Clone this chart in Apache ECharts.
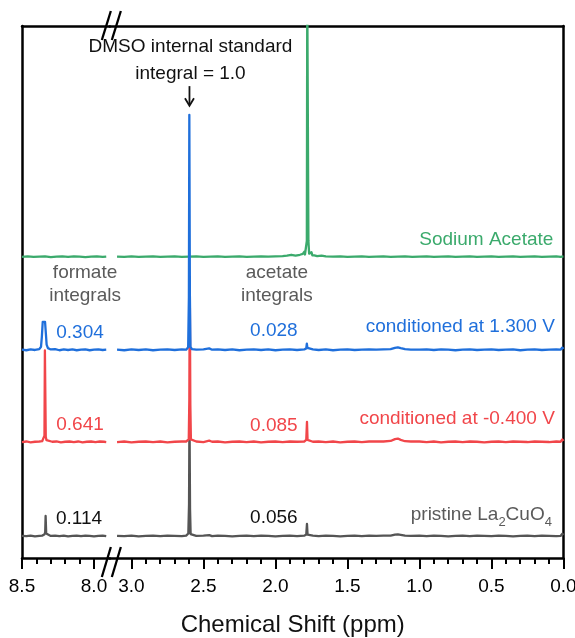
<!DOCTYPE html>
<html>
<head>
<meta charset="utf-8">
<script src="https://cdn.jsdelivr.net/npm/echarts@6/dist/echarts.min.js"></script>
<style>
  html, body { margin: 0; padding: 0; background: #fff; }
  #chart { width: 575px; height: 638px; }
</style>
</head>
<body>
<div id="chart"></div>
<script>
// ---- axis windows (ppm) on either side of the break ----
const leftWindow = [7.89, 8.5];
const rightWindow = [0, 3.15];
const majorTicksLeft = [8.5, 8.0];
const majorTicksRight = [3.0, 2.5, 2.0, 1.5, 1.0, 0.5, 0.0];
const minorTicksLeft = [8.4, 8.3, 8.2, 8.1];
const minorTicksRight = [2.9, 2.8, 2.7, 2.6, 2.4, 2.3, 2.2, 2.1, 1.9, 1.8, 1.7, 1.6,
                         1.4, 1.3, 1.2, 1.1, 0.9, 0.8, 0.7, 0.6, 0.4, 0.3, 0.2, 0.1];

// ---- vertical stacking offsets of each spectrum (arbitrary intensity units) ----
const offsetPristine = 4.1;
const offsetMinus400 = 21.8;
const offsetPlus1300 = 39.1;
const offsetAcetate = 56.6;

// ---- integrals relative to the DMSO standard ----
const formateIntegrals = [0.114, 0.641, 0.304];   // pristine, -0.400 V, 1.300 V
const acetateIntegrals = [0.056, 0.085, 0.028];

// ---- spectra: [ppm, intensity] ----
const plus1300Left = [[8.50,0.05],[8.47,-0.05],[8.44,0.10],[8.41,0.00],[8.38,0.15],[8.368,0.6],[8.362,2.5],
  [8.356,5.3],[8.348,5.6],[8.340,5.3],[8.334,3.0],[8.329,1.0],[8.32,0.35],[8.30,0.10],[8.27,0.15],[8.24,-0.05],
  [8.21,0.10],[8.18,0.00],[8.15,0.10],[8.12,-0.05],[8.09,0.05],[8.06,0.10],[8.03,-0.05],[8.00,0.05],[7.97,0.10],
  [7.94,0.00],[7.915,0.05]];
const plus1300Right = [[3.10,0.05],[3.05,-0.05],[3.00,0.10],[2.95,0.00],[2.90,0.10],[2.85,-0.05],[2.80,0.05],
  [2.75,0.10],[2.70,0.00],[2.65,0.10],[2.62,0.05],[2.606,0.5],[2.601,10],[2.598,44.2],[2.594,10],[2.590,0.6],
  [2.58,0.15],[2.55,0.05],[2.50,0.10],[2.46,0.30],[2.44,0.05],[2.40,0.10],[2.35,0.00],[2.30,0.10],[2.25,-0.05],
  [2.20,0.05],[2.15,0.10],[2.10,0.00],[2.05,0.10],[2.00,-0.05],[1.95,0.05],[1.90,0.10],[1.85,0.00],[1.80,0.10],
  [1.786,0.3],[1.782,1.2],[1.778,0.4],[1.77,0.05],[1.74,0.10],[1.70,0.00],[1.65,0.10],[1.60,-0.05],[1.55,0.05],
  [1.50,0.10],[1.45,0.00],[1.40,0.05],[1.35,0.10],[1.30,0.05],[1.25,0.10],[1.20,0.15],[1.17,0.40],[1.15,0.50],
  [1.13,0.35],[1.10,0.15],[1.06,0.05],[1.00,0.05],[0.95,0.10],[0.90,0.00],[0.85,0.10],[0.80,0.05],[0.75,-0.05],
  [0.70,0.05],[0.65,0.10],[0.60,0.00],[0.55,0.05],[0.50,0.10],[0.45,0.00],[0.40,0.05],[0.35,0.10],[0.30,-0.05],
  [0.25,0.05],[0.20,0.10],[0.15,0.00],[0.10,0.05],[0.05,0.10],[0.02,0.05],[0.008,0.45],[0.0,0.2]];

const minus400Left = [[8.50,0.00],[8.47,0.10],[8.44,-0.05],[8.41,0.05],[8.38,0.10],[8.36,0.15],[8.348,0.5],
  [8.344,1.2],[8.341,17.2],[8.338,17.2],[8.335,1.0],[8.33,0.35],[8.32,0.15],[8.29,0.05],[8.26,0.10],[8.23,-0.05],
  [8.20,0.05],[8.17,0.10],[8.14,0.00],[8.11,0.10],[8.08,-0.05],[8.05,0.05],[8.02,0.10],[7.99,0.00],[7.96,0.10],
  [7.93,0.05],[7.915,0.00]];
const minus400Right = [[3.10,0.00],[3.05,0.10],[3.00,-0.05],[2.95,0.05],[2.90,0.10],[2.85,0.00],[2.80,0.10],
  [2.75,-0.05],[2.70,0.05],[2.65,0.10],[2.62,0.10],[2.602,0.5],[2.598,8],[2.595,30.5],[2.591,7],[2.587,0.5],
  [2.58,0.15],[2.55,0.10],[2.50,0.00],[2.46,0.25],[2.44,0.05],[2.40,0.10],[2.35,-0.05],[2.30,0.05],[2.25,0.10],
  [2.20,0.00],[2.15,0.10],[2.10,-0.05],[2.05,0.05],[2.00,0.10],[1.95,0.00],[1.90,0.10],[1.85,0.05],[1.80,0.10],
  [1.786,0.4],[1.781,3.8],[1.777,0.4],[1.77,0.10],[1.74,0.05],[1.70,0.10],[1.65,0.00],[1.60,0.10],[1.55,-0.05],
  [1.50,0.05],[1.45,0.10],[1.40,0.00],[1.35,0.10],[1.30,0.10],[1.25,0.10],[1.20,0.20],[1.17,0.55],[1.15,0.65],
  [1.13,0.40],[1.10,0.15],[1.06,0.10],[1.00,0.10],[0.95,0.00],[0.90,0.10],[0.85,-0.05],[0.80,0.05],[0.75,0.10],
  [0.70,0.00],[0.65,0.10],[0.60,0.05],[0.55,-0.05],[0.50,0.05],[0.45,0.10],[0.40,0.00],[0.35,0.10],[0.30,0.05],
  [0.25,0.00],[0.20,0.10],[0.15,0.05],[0.10,0.00],[0.05,0.10],[0.02,0.05],[0.008,0.5],[0.0,0.2]];

const pristineLeft = [[8.50,0.05],[8.47,0.00],[8.44,0.10],[8.41,-0.05],[8.38,0.05],[8.36,0.10],[8.345,0.3],
  [8.339,0.7],[8.336,3.8],[8.332,0.5],[8.325,0.15],[8.30,0.05],[8.27,0.10],[8.24,0.00],[8.21,0.10],[8.18,-0.05],
  [8.15,0.05],[8.12,0.10],[8.09,0.00],[8.06,0.10],[8.03,0.05],[8.00,-0.05],[7.97,0.05],[7.94,0.10],[7.915,0.00]];
const pristineRight = [[3.10,0.05],[3.05,0.00],[3.00,0.10],[2.95,-0.05],[2.90,0.05],[2.85,0.10],[2.80,0.00],
  [2.75,0.10],[2.70,0.05],[2.65,0.00],[2.62,0.10],[2.605,0.5],[2.600,6],[2.597,23.5],[2.593,5],[2.589,0.4],
  [2.58,0.10],[2.55,0.05],[2.50,0.10],[2.46,0.20],[2.44,0.00],[2.40,0.10],[2.35,0.05],[2.30,-0.05],[2.25,0.05],
  [2.20,0.10],[2.15,0.00],[2.10,0.10],[2.05,0.05],[2.00,-0.05],[1.95,0.05],[1.90,0.10],[1.85,0.00],[1.80,0.10],
  [1.786,0.3],[1.781,2.3],[1.777,0.3],[1.77,0.05],[1.74,0.10],[1.70,0.00],[1.65,0.10],[1.60,0.05],[1.55,-0.05],
  [1.50,0.05],[1.45,0.10],[1.40,0.00],[1.35,0.10],[1.30,0.05],[1.25,0.10],[1.20,0.10],[1.17,0.30],[1.15,0.35],
  [1.13,0.25],[1.10,0.10],[1.06,0.05],[1.00,0.10],[0.95,0.00],[0.90,0.10],[0.85,0.05],[0.80,-0.05],[0.75,0.05],
  [0.70,0.10],[0.65,0.00],[0.60,0.10],[0.55,0.05],[0.50,0.00],[0.45,0.10],[0.40,0.05],[0.35,-0.05],[0.30,0.05],
  [0.25,0.10],[0.20,0.00],[0.15,0.10],[0.10,0.05],[0.05,0.00],[0.02,0.05],[0.008,0.45],[0.0,0.2]];

const acetateLeft = [[8.50,0.00],[8.46,0.10],[8.42,0.00],[8.38,0.05],[8.34,0.10],[8.30,-0.05],[8.26,0.05],
  [8.22,0.10],[8.18,0.00],[8.14,0.10],[8.10,0.05],[8.06,-0.05],[8.02,0.05],[7.98,0.10],[7.94,0.00],[7.915,0.05]];
const acetateRight = [[3.10,0.05],[3.05,0.00],[3.00,0.10],[2.95,0.00],[2.90,0.05],[2.85,0.10],[2.80,0.00],
  [2.75,0.05],[2.70,0.10],[2.65,0.00],[2.60,0.05],[2.55,0.10],[2.50,0.00],[2.45,0.05],[2.40,0.10],[2.35,0.00],
  [2.30,0.05],[2.25,0.10],[2.20,0.00],[2.15,0.05],[2.10,0.10],[2.05,0.05],[2.00,0.10],[1.95,0.15],[1.92,0.25],
  [1.89,0.40],[1.86,0.25],[1.83,0.40],[1.81,0.55],[1.800,0.95],[1.795,0.45],[1.787,0.8],[1.782,3.0],[1.779,50],
  [1.774,50],[1.771,3.0],[1.766,0.6],[1.758,0.35],[1.750,0.9],[1.744,0.30],[1.73,0.30],[1.71,0.15],[1.68,0.25],
  [1.65,0.10],[1.60,0.05],[1.55,0.10],[1.50,0.00],[1.45,0.05],[1.40,0.10],[1.35,0.00],[1.30,0.05],[1.25,0.10],
  [1.20,0.00],[1.15,0.05],[1.10,0.10],[1.05,0.00],[1.00,0.05],[0.95,0.10],[0.90,0.00],[0.85,0.05],[0.80,0.10],
  [0.75,0.00],[0.70,0.05],[0.65,0.10],[0.60,0.00],[0.55,0.05],[0.50,0.10],[0.45,0.00],[0.40,0.05],[0.35,0.10],
  [0.30,0.00],[0.25,0.05],[0.20,0.10],[0.15,0.00],[0.10,0.05],[0.05,0.10],[0.02,0.00],[0.008,0.3],[0.0,0.1]];

// ---- styling ----
const FONT = '"Liberation Sans", Arial, sans-serif';
const INK = '#111111';
const BLUE = '#1F6FDB';
const RED = '#F1464A';
const GREEN = '#3BAA6C';
const GREY = '#555555';
const GREY_TEXT = '#5A5A5A';

const PX_PER_PPM = 144;
const PLOT_LEFT = 22;
const PLOT_TOP = 26;
const PLOT_HEIGHT = 532;
const leftWidth = (leftWindow[1] - leftWindow[0]) * PX_PER_PPM;
const rightWidth = (rightWindow[1] - rightWindow[0]) * PX_PER_PPM;

const chart = echarts.init(document.getElementById('chart'), null, { renderer: 'canvas' });

function shift(points, offset) {
  return points.map(p => [p[0], p[1] + offset]);
}

function lineSeries(points, offset, color, gridIdx) {
  return {
    type: 'line',
    xAxisIndex: gridIdx,
    yAxisIndex: gridIdx,
    data: shift(points, offset),
    showSymbol: false,
    symbol: 'none',
    clip: true,
    silent: true,
    lineStyle: { color: color, width: 2.3, join: 'round' },
    animation: false
  };
}

function bottomAxis(gridIdx, win, ticks, showLine, tickLen, labelled) {
  return {
    type: 'value',
    gridIndex: gridIdx,
    position: 'bottom',
    min: win[0],
    max: win[1],
    inverse: true,
    axisLine: { show: showLine, onZero: false, lineStyle: { color: '#000', width: 2.5 } },
    axisTick: { show: true, inside: false, length: tickLen, customValues: ticks,
                lineStyle: { color: '#000', width: 2 } },
    axisLabel: labelled
      ? { show: true, customValues: ticks, formatter: v => Number(v).toFixed(1),
          fontFamily: FONT, fontSize: 19, color: '#000', margin: 19 }
      : { show: false },
    splitLine: { show: false }
  };
}

function topAxis(gridIdx, win) {
  return {
    type: 'value', gridIndex: gridIdx, position: 'top', min: win[0], max: win[1], inverse: true,
    axisLine: { show: true, onZero: false, lineStyle: { color: '#000', width: 2.5 } },
    axisTick: { show: false }, axisLabel: { show: false }, splitLine: { show: false }
  };
}

function sideAxis(gridIdx, pos) {
  return {
    type: 'value', gridIndex: gridIdx, position: pos, min: 0, max: 100,
    axisLine: { show: true, onZero: false, lineStyle: { color: '#000', width: 2.5 } },
    axisTick: { show: false }, axisLabel: { show: false }, splitLine: { show: false }
  };
}

const option = {
  animation: false,
  backgroundColor: '#fff',
  grid: [
    { left: PLOT_LEFT, top: PLOT_TOP, width: leftWidth, height: PLOT_HEIGHT,
      containLabel: false, outerBoundsMode: 'none' },
    { left: PLOT_LEFT + leftWidth, top: PLOT_TOP, width: rightWidth, height: PLOT_HEIGHT,
      containLabel: false, outerBoundsMode: 'none' }
  ],
  xAxis: [
    bottomAxis(0, leftWindow, majorTicksLeft, true, 11, true),
    bottomAxis(1, rightWindow, majorTicksRight, true, 11, true),
    bottomAxis(0, leftWindow, minorTicksLeft, false, 6, false),
    bottomAxis(1, rightWindow, minorTicksRight, false, 6, false),
    topAxis(0, leftWindow),
    topAxis(1, rightWindow)
  ],
  yAxis: [ sideAxis(0, 'left'), sideAxis(1, 'right') ],
  series: [
    lineSeries(acetateLeft, offsetAcetate, GREEN, 0),
    lineSeries(acetateRight, offsetAcetate, GREEN, 1),
    lineSeries(pristineLeft, offsetPristine, GREY, 0),
    lineSeries(pristineRight, offsetPristine, GREY, 1),
    lineSeries(minus400Left, offsetMinus400, RED, 0),
    lineSeries(minus400Right, offsetMinus400, RED, 1),
    lineSeries(plus1300Left, offsetPlus1300, BLUE, 0),
    lineSeries(plus1300Right, offsetPlus1300, BLUE, 1)
  ]
};
chart.setOption(option);

// ---- annotations anchored in data coordinates ----
function toPx(gridIdx, ppm, v) {
  return chart.convertToPixel({ gridIndex: gridIdx }, [ppm, v]);
}

const notes = [
  { text: 'DMSO internal standard', grid: 1, at: [2.59, 96.1], align: 'center', color: INK },
  { text: 'integral = 1.0', grid: 1, at: [2.59, 91.0], align: 'center', color: INK },
  { text: 'formate', grid: 0, at: [8.062, 53.6], align: 'center', color: GREY_TEXT },
  { text: 'integrals', grid: 0, at: [8.062, 49.3], align: 'center', color: GREY_TEXT },
  { text: 'acetate', grid: 1, at: [1.99, 53.6], align: 'center', color: GREY_TEXT },
  { text: 'integrals', grid: 1, at: [1.99, 49.3], align: 'center', color: GREY_TEXT },
  { text: formateIntegrals[2].toFixed(3), grid: 0, at: [8.097, 42.3], align: 'center', color: BLUE },
  { text: formateIntegrals[1].toFixed(3), grid: 0, at: [8.097, 25.0], align: 'center', color: RED },
  { text: formateIntegrals[0].toFixed(3), grid: 0, at: [8.104, 7.4], align: 'center', color: INK },
  { text: acetateIntegrals[2].toFixed(3), grid: 1, at: [2.011, 42.7], align: 'center', color: BLUE },
  { text: acetateIntegrals[1].toFixed(3), grid: 1, at: [2.011, 24.8], align: 'center', color: RED },
  { text: acetateIntegrals[0].toFixed(3), grid: 1, at: [2.011, 7.5], align: 'center', color: INK },
  { text: 'Sodium Acetate', grid: 1, at: [0.07, 59.8], align: 'right', color: GREEN },
  { text: 'conditioned at 1.300 V', grid: 1, at: [0.06, 43.4], align: 'right', color: BLUE },
  { text: 'conditioned at -0.400 V', grid: 1, at: [0.06, 26.1], align: 'right', color: RED }
];

const graphics = notes.map(n => {
  const p = toPx(n.grid, n.at[0], n.at[1]);
  return {
    type: 'text', silent: true, z: 10,
    style: { text: n.text, x: p[0], y: p[1], fill: n.color, font: '19px ' + FONT,
             align: n.align, verticalAlign: 'middle' }
  };
});

// sample name with subscripts
const pristinePos = toPx(1, 0.08, 8.1);
graphics.push({
  type: 'text', silent: true, z: 10,
  style: {
    text: '{m|pristine La}{s|2}{m|CuO}{s|4}',
    x: pristinePos[0], y: pristinePos[1] - 9.5,
    align: 'right', verticalAlign: 'top',
    rich: {
      m: { fontFamily: FONT, fontSize: 19, lineHeight: 19, fill: GREY_TEXT, verticalAlign: 'top' },
      s: { fontFamily: FONT, fontSize: 13, lineHeight: 13, fill: GREY_TEXT, verticalAlign: 'top',
           padding: [11, 0, 0, 0] }
    }
  }
});

// arrow pointing at the DMSO peak
const arrowTop = toPx(1, 2.597, 88.7);
const arrowTip = toPx(1, 2.597, 85.0);
graphics.push({
  type: 'line', silent: true, z: 10,
  shape: { x1: arrowTip[0], y1: arrowTop[1], x2: arrowTip[0], y2: arrowTip[1] - 1 },
  style: { stroke: INK, lineWidth: 1.8 }
});
graphics.push({
  type: 'polyline', silent: true, z: 10,
  shape: { points: [[arrowTip[0] - 4.5, arrowTip[1] - 7.5], [arrowTip[0], arrowTip[1]],
                    [arrowTip[0] + 4.5, arrowTip[1] - 7.5]] },
  style: { stroke: INK, lineWidth: 1.8, fill: null }
});

// axis break marks on the top and bottom frame lines
const breakTop = toPx(1, rightWindow[1], 100);
const breakBottom = toPx(1, rightWindow[1], 0);
[[breakTop[1], -15, 14], [breakBottom[1], -11, 19]].forEach(([y0, up, down]) => {
  const bx = breakTop[0];
  [[-8, 1], [2, 11]].forEach(([a, b]) => {
    graphics.push({
      type: 'line', silent: true, z: 20,
      shape: { x1: bx + a, y1: y0 + down, x2: bx + b, y2: y0 + up },
      style: { stroke: '#000', lineWidth: 2.3 }
    });
  });
});

// axis title
const titleLeft = toPx(0, leftWindow[1], 0);
const titleRight = toPx(1, rightWindow[0], 0);
graphics.push({
  type: 'text', silent: true, z: 10,
  style: { text: 'Chemical Shift (ppm)', x: (titleLeft[0] + titleRight[0]) / 2, y: 625,
           fill: INK, font: '24px ' + FONT, align: 'center', verticalAlign: 'middle' }
});

chart.setOption({ graphic: { elements: graphics } });
</script>
</body>
</html>
